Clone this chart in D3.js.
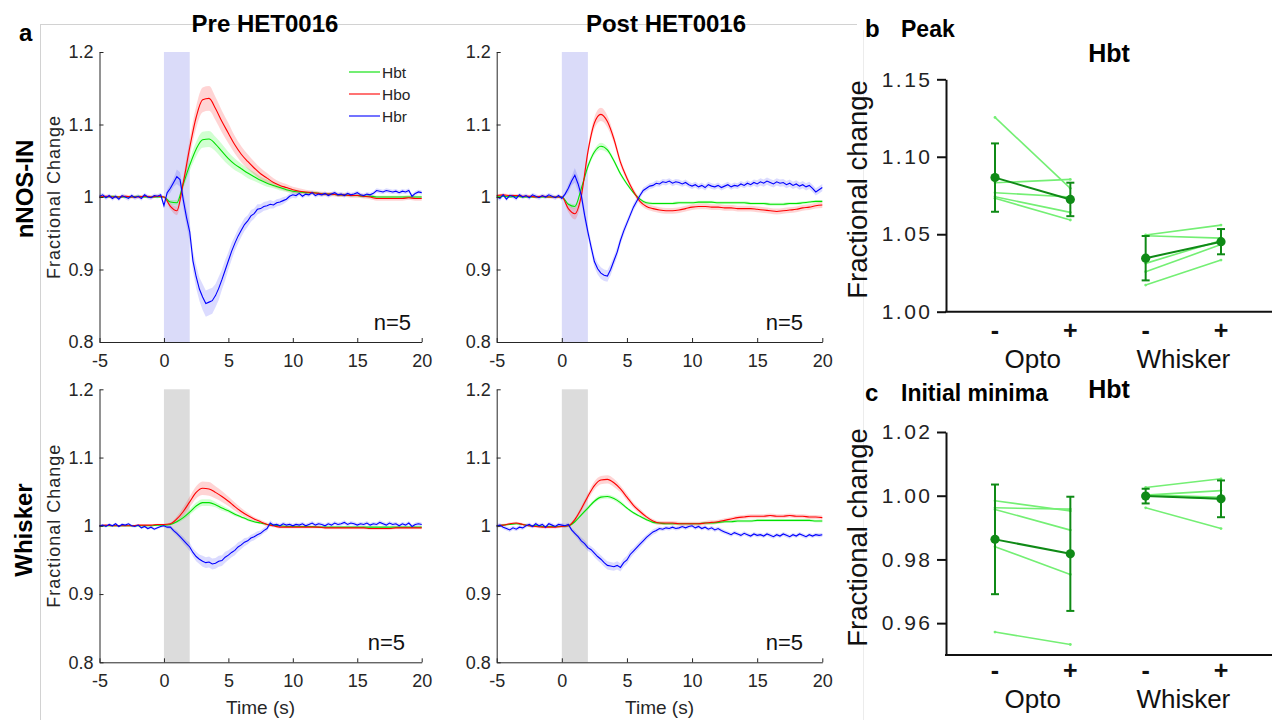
<!DOCTYPE html>
<html>
<head>
<meta charset="utf-8">
<script src="https://cdnjs.cloudflare.com/ajax/libs/d3/7.8.5/d3.min.js"></script>
<style>
  html, body { margin: 0; padding: 0; background: #fff; }
  svg { display: block; font-family: Arial, "Liberation Sans", Helvetica, sans-serif; }
</style>
</head>
<body>
<svg id="chart" width="1274" height="720"></svg>
<script>
'use strict';

// ---- time bases (s) ----
var timeCoarse = [-5, -4.5, -4, -3.5, -3, -2.5, -2, -1.5, -1, -0.5, 0, 0.5, 1, 1.5, 2, 2.5, 3, 3.5, 4, 4.5,
    5, 5.5, 6, 6.5, 7, 7.5, 8, 8.5, 9, 9.5, 10, 10.5, 11, 11.5, 12, 12.5, 13, 13.5, 14, 14.5,
    15, 15.5, 16, 16.5, 17, 17.5, 18, 18.5, 19, 19.5, 20];
var timeFine = [-5, -4.75, -4.5, -4.25, -4, -3.75, -3.5, -3.25, -3, -2.75, -2.5, -2.25, -2, -1.75, -1.5, -1.25,
    -1, -0.75, -0.5, -0.25, 0, 0.25, 0.5, 0.75, 1, 1.25, 1.5, 1.75, 2, 2.25, 2.5, 2.75, 3, 3.25, 3.5, 3.75,
    4, 4.25, 4.5, 4.75, 5, 5.25, 5.5, 5.75, 6, 6.25, 6.5, 6.75, 7, 7.25, 7.5, 7.75, 8, 8.25, 8.5, 8.75,
    9, 9.25, 9.5, 9.75, 10, 10.25, 10.5, 10.75, 11, 11.25, 11.5, 11.75, 12, 12.25, 12.5, 12.75, 13, 13.25,
    13.5, 13.75, 14, 14.25, 14.5, 14.75, 15, 15.25, 15.5, 15.75, 16, 16.25, 16.5, 16.75, 17, 17.25,
    17.5, 17.75, 18, 18.25, 18.5, 18.75, 19, 19.25, 19.5, 19.75, 20];
var stimWindow = [0, 2];
var xTicks = [-5, 0, 5, 10, 15, 20];
var yTicks = [0.8, 0.9, 1.0, 1.1, 1.2];

// ---- a: nNOS-IN (opto), pre HET0016 ----
var preOptoHbt = [1.000, 1.000, 1.001, 1.000, 1.000, 1.000, 1.001, 1.000, 1.000, 1.000,
    1.000, 0.993, 0.992, 1.018, 1.044, 1.066, 1.079, 1.080, 1.073, 1.063,
    1.053, 1.045, 1.039, 1.033, 1.028, 1.023, 1.019, 1.016, 1.013, 1.010,
    1.008, 1.007, 1.006, 1.006, 1.005, 1.004, 1.004, 1.003, 1.003, 1.002,
    1.002, 1.001, 1.001, 1.000, 1.000, 1.000, 1.000, 1.000, 1.000, 1.000, 1.000];
var preOptoHbo = [1.000, 1.001, 1.000, 1.000, 1.001, 1.000, 1.000, 1.001, 1.000, 1.001,
    1.000, 0.987, 0.981, 1.020, 1.068, 1.110, 1.134, 1.136, 1.122, 1.104,
    1.088, 1.072, 1.059, 1.049, 1.040, 1.032, 1.026, 1.020, 1.016, 1.013,
    1.010, 1.008, 1.007, 1.006, 1.005, 1.004, 1.004, 1.003, 1.003, 1.002,
    1.002, 1.001, 1.000, 0.998, 0.998, 0.998, 0.998, 0.998, 0.999, 0.998, 0.998];
var preOptoHbr = [1.001, 1.003, 0.999, 1.002, 0.998, 1.001, 0.997, 1.002, 1.000, 0.998,
    1.002, 0.999, 1.001, 0.998, 1.003, 1.000, 0.999, 1.002, 1.001, 1.003,
    0.988, 1.006, 1.012, 1.020, 1.028, 1.024, 0.996, 0.972, 0.952, 0.912,
    0.890, 0.873, 0.862, 0.853, 0.855, 0.857, 0.864, 0.874, 0.886, 0.899,
    0.912, 0.925, 0.936, 0.946, 0.954, 0.962, 0.967, 0.974, 0.977, 0.983,
    0.984, 0.987, 0.988, 0.990, 0.989, 0.992, 0.993, 0.995, 0.997, 1.001,
    1.003,
    1.002, 1.005, 1.001, 1.004, 1.003, 1.006, 1.002, 1.004, 1.003, 1.005,
    1.002, 1.004, 1.006, 1.003, 1.004, 1.002, 1.005, 1.003, 1.004, 1.006,
    1.003, 1.002, 1.004, 1.003, 1.005,
    1.009, 1.008, 1.007, 1.009, 1.008, 1.007, 1.008, 1.006, 1.008, 1.007, 1.009, 1.001, 1.005, 1.007, 1.006];
var preOptoHbtSem = [0.001, 0.001, 0.001, 0.001, 0.001, 0.001, 0.001, 0.001, 0.001, 0.001,
    0.001, 0.003, 0.004, 0.006, 0.008, 0.010, 0.011, 0.011, 0.010, 0.010,
    0.009, 0.008, 0.007, 0.007, 0.006, 0.005, 0.005, 0.004, 0.004, 0.003,
    0.003, 0.002, 0.002, 0.002, 0.002, 0.002, 0.002, 0.002, 0.002, 0.002,
    0.002, 0.002, 0.002, 0.002, 0.002, 0.002, 0.002, 0.002, 0.002, 0.002, 0.002];
var preOptoHboSem = [0.002, 0.002, 0.002, 0.002, 0.002, 0.002, 0.002, 0.002, 0.002, 0.002,
    0.002, 0.004, 0.006, 0.008, 0.012, 0.015, 0.017, 0.017, 0.016, 0.015,
    0.014, 0.012, 0.011, 0.010, 0.009, 0.008, 0.007, 0.006, 0.005, 0.005,
    0.004, 0.004, 0.003, 0.003, 0.003, 0.003, 0.003, 0.003, 0.003, 0.003,
    0.003, 0.003, 0.003, 0.003, 0.003, 0.003, 0.003, 0.003, 0.003, 0.003, 0.003];
var preOptoHbrSem = [0.003, 0.003, 0.003, 0.003, 0.003, 0.003, 0.003, 0.003, 0.003, 0.003,
    0.004, 0.006, 0.010, 0.012, 0.014, 0.016, 0.018, 0.018, 0.016, 0.014,
    0.012, 0.010, 0.009, 0.008, 0.007, 0.006, 0.006, 0.005, 0.005, 0.004,
    0.004, 0.003, 0.003, 0.003, 0.003, 0.003, 0.003, 0.003, 0.003, 0.003,
    0.003, 0.003, 0.003, 0.003, 0.003, 0.003, 0.003, 0.003, 0.003, 0.003, 0.003];

// ---- a: nNOS-IN (opto), post HET0016 ----
var postOptoHbt = [1.001, 1.001, 1.000, 1.001, 1.000, 1.000, 1.000, 1.000, 1.000, 1.000,
    1.000, 0.990, 0.987, 1.012, 1.042, 1.062, 1.070, 1.065, 1.050, 1.032,
    1.018, 1.006, 0.997, 0.992, 0.991, 0.991, 0.991, 0.991, 0.992, 0.992,
    0.992, 0.993, 0.993, 0.993, 0.992, 0.992, 0.992, 0.992, 0.992, 0.991,
    0.991, 0.991, 0.990, 0.990, 0.990, 0.991, 0.991, 0.992, 0.993, 0.994, 0.994];
var postOptoHbo = [1.002, 1.003, 1.002, 1.002, 1.001, 1.001, 1.000, 1.001, 1.000, 1.000,
    1.000, 0.984, 0.977, 1.002, 1.062, 1.102, 1.114, 1.104, 1.080, 1.048,
    1.026, 1.008, 0.994, 0.987, 0.984, 0.982, 0.981, 0.981, 0.982, 0.984,
    0.986, 0.987, 0.987, 0.986, 0.986, 0.985, 0.985, 0.984, 0.984, 0.984,
    0.983, 0.982, 0.981, 0.980, 0.981, 0.982, 0.983, 0.985, 0.986, 0.988, 0.989];
var postOptoHbr = [1.000, 0.998, 1.003, 0.997, 1.002, 1.001, 0.998, 1.003, 1.000, 1.002,
    0.999, 1.003, 1.001, 0.999, 1.002, 1.000, 1.003, 1.001, 0.999, 1.002,
    0.998, 1.004, 1.012, 1.022, 1.030, 1.018, 1.002, 0.975, 0.952, 0.931,
    0.911, 0.901, 0.895, 0.892, 0.891, 0.900, 0.912, 0.924, 0.940, 0.953,
    0.964, 0.975, 0.986, 0.994, 1.002, 1.009, 1.012, 1.015, 1.016, 1.019,
    1.018, 1.021, 1.020, 1.022, 1.019, 1.021, 1.020, 1.018, 1.020, 1.017,
    1.015,
    1.017, 1.014, 1.016, 1.013, 1.017, 1.015, 1.014, 1.016, 1.013, 1.015,
    1.017, 1.014, 1.016, 1.015, 1.018, 1.016, 1.019, 1.017, 1.020, 1.018,
    1.021, 1.019, 1.022, 1.020, 1.018, 1.021, 1.019, 1.020, 1.017, 1.019,
    1.016, 1.018, 1.015, 1.017, 1.014, 1.016, 1.012, 1.007, 1.010, 1.013];
var postOptoHbtSem = [0.001, 0.001, 0.001, 0.001, 0.001, 0.001, 0.001, 0.001, 0.001, 0.001,
    0.001, 0.002, 0.003, 0.003, 0.004, 0.004, 0.005, 0.004, 0.003, 0.003,
    0.002, 0.002, 0.002, 0.002, 0.002, 0.002, 0.002, 0.002, 0.002, 0.002,
    0.002, 0.002, 0.002, 0.002, 0.002, 0.002, 0.002, 0.002, 0.002, 0.002,
    0.002, 0.002, 0.002, 0.002, 0.002, 0.002, 0.002, 0.002, 0.002, 0.002, 0.002];
var postOptoHboSem = [0.002, 0.002, 0.002, 0.002, 0.002, 0.002, 0.002, 0.002, 0.002, 0.002,
    0.002, 0.005, 0.008, 0.007, 0.007, 0.008, 0.009, 0.008, 0.006, 0.005,
    0.004, 0.004, 0.004, 0.004, 0.004, 0.004, 0.004, 0.004, 0.004, 0.004,
    0.004, 0.004, 0.004, 0.004, 0.004, 0.004, 0.004, 0.004, 0.004, 0.004,
    0.004, 0.004, 0.004, 0.004, 0.004, 0.004, 0.004, 0.004, 0.004, 0.004, 0.004];
var postOptoHbrSem = [0.003, 0.003, 0.003, 0.003, 0.003, 0.003, 0.003, 0.003, 0.003, 0.003,
    0.003, 0.006, 0.010, 0.009, 0.008, 0.008, 0.008, 0.008, 0.007, 0.006,
    0.005, 0.005, 0.004, 0.004, 0.004, 0.004, 0.004, 0.004, 0.004, 0.004,
    0.004, 0.004, 0.004, 0.004, 0.004, 0.004, 0.004, 0.004, 0.004, 0.004,
    0.005, 0.005, 0.005, 0.005, 0.005, 0.005, 0.005, 0.005, 0.005, 0.005, 0.005];

// ---- a: whisker, pre HET0016 ----
var preWhiskerHbt = [1.000, 1.000, 1.000, 1.000, 1.000, 1.000, 1.000, 1.000, 1.000, 1.001,
    1.001, 1.002, 1.006, 1.012, 1.020, 1.029, 1.034, 1.034, 1.031, 1.026,
    1.022, 1.017, 1.013, 1.009, 1.006, 1.004, 1.002, 1.001, 1.000, 0.999,
    0.999, 0.999, 0.999, 0.999, 0.998, 0.998, 0.998, 0.998, 0.998, 0.998,
    0.998, 0.998, 0.998, 0.998, 0.998, 0.998, 0.998, 0.998, 0.998, 0.998, 0.998];
var preWhiskerHbo = [1.000, 1.001, 1.000, 1.000, 1.000, 1.000, 1.001, 1.001, 1.001, 1.002,
    1.002, 1.003, 1.010, 1.021, 1.035, 1.049, 1.055, 1.054, 1.049, 1.043,
    1.036, 1.028, 1.021, 1.015, 1.010, 1.006, 1.002, 1.000, 0.998, 0.998,
    0.998, 0.998, 0.998, 0.998, 0.998, 0.997, 0.997, 0.997, 0.997, 0.997,
    0.997, 0.997, 0.996, 0.996, 0.996, 0.996, 0.997, 0.997, 0.997, 0.997, 0.997];
var preWhiskerHbr = [1.000, 1.001, 0.999, 1.002, 1.000, 1.003, 0.999, 1.002, 1.001, 1.003,
    1.000, 0.999, 1.001, 0.997, 0.999, 0.996, 0.998, 0.995, 0.997, 0.999,
    1.000, 0.998, 0.998, 0.993, 0.989, 0.984, 0.979, 0.974, 0.969, 0.961,
    0.955, 0.951, 0.948, 0.946, 0.947, 0.944, 0.945, 0.948, 0.949, 0.954,
    0.957, 0.961, 0.964, 0.969, 0.972, 0.976, 0.978, 0.982, 0.984, 0.987,
    0.989, 0.993, 0.996, 1.004, 1.001, 1.002, 1.000, 1.003, 1.001, 1.002,
    1.000,
    1.002, 1.001, 1.003, 1.000, 1.002, 1.004, 1.001, 1.003, 1.002, 1.000,
    1.003, 1.001, 1.004, 1.002, 1.003, 1.005, 1.002, 1.004, 1.003, 1.001,
    1.003, 1.002, 1.004, 1.001, 1.003, 1.002, 1.005, 1.003, 1.001, 1.004,
    1.002, 1.003, 1.000, 1.003, 1.001, 1.004, 0.999, 1.002, 1.003, 1.002];
var preWhiskerHbtSem = [0.001, 0.001, 0.001, 0.001, 0.001, 0.001, 0.001, 0.001, 0.001, 0.001,
    0.001, 0.001, 0.002, 0.003, 0.004, 0.005, 0.005, 0.005, 0.004, 0.004,
    0.003, 0.003, 0.002, 0.002, 0.002, 0.001, 0.001, 0.001, 0.001, 0.001,
    0.001, 0.001, 0.001, 0.001, 0.001, 0.001, 0.001, 0.001, 0.001, 0.001,
    0.001, 0.001, 0.001, 0.001, 0.001, 0.001, 0.001, 0.001, 0.001, 0.001, 0.001];
var preWhiskerHboSem = [0.001, 0.001, 0.001, 0.001, 0.001, 0.001, 0.001, 0.001, 0.001, 0.001,
    0.001, 0.002, 0.004, 0.006, 0.008, 0.009, 0.010, 0.010, 0.009, 0.008,
    0.007, 0.006, 0.005, 0.004, 0.003, 0.003, 0.003, 0.002, 0.002, 0.002,
    0.002, 0.002, 0.002, 0.002, 0.002, 0.002, 0.002, 0.002, 0.002, 0.002,
    0.002, 0.002, 0.002, 0.002, 0.002, 0.002, 0.002, 0.002, 0.002, 0.002, 0.002];
var preWhiskerHbrSem = [0.002, 0.002, 0.002, 0.002, 0.002, 0.002, 0.002, 0.002, 0.002, 0.002,
    0.002, 0.003, 0.004, 0.005, 0.006, 0.007, 0.008, 0.008, 0.008, 0.008,
    0.007, 0.007, 0.006, 0.005, 0.005, 0.004, 0.004, 0.003, 0.003, 0.003,
    0.003, 0.003, 0.003, 0.003, 0.003, 0.003, 0.003, 0.003, 0.003, 0.003,
    0.003, 0.003, 0.003, 0.003, 0.003, 0.003, 0.003, 0.003, 0.003, 0.003, 0.003];

// ---- a: whisker, post HET0016 ----
var postWhiskerHbt = [1.000, 1.001, 1.002, 1.003, 1.002, 1.000, 1.000, 0.999, 0.999, 0.999,
    0.999, 1.000, 1.006, 1.016, 1.026, 1.036, 1.042, 1.043, 1.040, 1.034,
    1.026, 1.019, 1.014, 1.009, 1.005, 1.004, 1.003, 1.003, 1.003, 1.003,
    1.003, 1.003, 1.004, 1.004, 1.005, 1.006, 1.006, 1.007, 1.007, 1.007,
    1.008, 1.008, 1.008, 1.008, 1.008, 1.008, 1.008, 1.008, 1.008, 1.007, 1.007];
var postWhiskerHbo = [1.000, 1.001, 1.003, 1.004, 1.002, 1.000, 0.999, 0.998, 0.998, 0.998,
    0.999, 1.000, 1.009, 1.025, 1.043, 1.059, 1.067, 1.068, 1.063, 1.054,
    1.042, 1.030, 1.021, 1.013, 1.007, 1.004, 1.004, 1.004, 1.003, 1.003,
    1.003, 1.003, 1.004, 1.005, 1.006, 1.008, 1.010, 1.012, 1.013, 1.014,
    1.014, 1.014, 1.015, 1.014, 1.014, 1.015, 1.014, 1.014, 1.013, 1.013, 1.012];
var postWhiskerHbr = [1.000, 1.001, 0.998, 0.996, 0.994, 0.997, 0.995, 0.998, 0.997, 1.000,
    1.002, 0.999, 1.003, 1.000, 1.002, 0.998, 1.003, 1.001, 0.999, 1.002,
    1.001, 1.000, 1.002, 0.994, 0.989, 0.984, 0.978, 0.974, 0.968, 0.965,
    0.960, 0.955, 0.951, 0.946, 0.942, 0.941, 0.940, 0.942, 0.939, 0.946,
    0.950, 0.958, 0.963, 0.968, 0.973, 0.978, 0.983, 0.987, 0.991, 0.993,
    0.996, 0.995, 0.997, 0.996, 0.998, 0.996, 0.997, 0.999, 0.997, 0.999,
    1.000,
    0.997, 0.999, 0.996, 0.998, 0.995, 0.997, 0.994, 0.996, 0.993, 0.991,
    0.989, 0.987, 0.990, 0.988, 0.986, 0.989, 0.987, 0.985, 0.988, 0.986,
    0.987, 0.985, 0.988, 0.986, 0.984, 0.987, 0.985, 0.988, 0.986, 0.984,
    0.987, 0.985, 0.988, 0.986, 0.984, 0.987, 0.985, 0.987, 0.986, 0.987];
var postWhiskerHbtSem = [0.001, 0.001, 0.001, 0.001, 0.001, 0.001, 0.001, 0.001, 0.001, 0.001,
    0.001, 0.001, 0.002, 0.002, 0.003, 0.003, 0.003, 0.003, 0.003, 0.003,
    0.002, 0.002, 0.002, 0.002, 0.002, 0.002, 0.002, 0.002, 0.002, 0.002,
    0.002, 0.002, 0.002, 0.002, 0.002, 0.002, 0.002, 0.002, 0.002, 0.002,
    0.002, 0.002, 0.002, 0.002, 0.002, 0.002, 0.002, 0.002, 0.002, 0.002, 0.002];
var postWhiskerHboSem = [0.002, 0.002, 0.002, 0.002, 0.002, 0.002, 0.002, 0.002, 0.002, 0.002,
    0.002, 0.002, 0.003, 0.004, 0.005, 0.006, 0.006, 0.006, 0.006, 0.005,
    0.005, 0.004, 0.004, 0.003, 0.003, 0.003, 0.003, 0.003, 0.003, 0.003,
    0.003, 0.003, 0.003, 0.003, 0.003, 0.003, 0.003, 0.003, 0.003, 0.003,
    0.003, 0.003, 0.003, 0.003, 0.003, 0.003, 0.003, 0.003, 0.003, 0.003, 0.003];
var postWhiskerHbrSem = [0.003, 0.003, 0.003, 0.003, 0.003, 0.003, 0.003, 0.003, 0.003, 0.003,
    0.003, 0.003, 0.004, 0.005, 0.005, 0.006, 0.006, 0.006, 0.006, 0.006,
    0.006, 0.005, 0.005, 0.004, 0.004, 0.003, 0.003, 0.003, 0.003, 0.003,
    0.003, 0.003, 0.003, 0.003, 0.003, 0.003, 0.003, 0.003, 0.003, 0.003,
    0.003, 0.003, 0.003, 0.003, 0.003, 0.003, 0.003, 0.003, 0.003, 0.003, 0.003];

// ---- b/c: per-animal Hbt, [without, with] HET0016 ----
var groups = ['Opto', 'Whisker'];
var signs = ['-', '+'];
var peakOpto = [[1.1254, 1.0796], [1.0832, 1.0854], [1.0768, 1.0740], [1.0742, 1.0641], [1.0732, 1.0592]];
var peakWhisker = [[1.0495, 1.0559], [1.0490, 1.0475], [1.0312, 1.0460], [1.0258, 1.0433], [1.0172, 1.0333]];
var minimaOpto = [[0.9984, 0.9952], [0.9962, 0.9958], [0.9957, 0.9892], [0.9840, 0.9753], [0.9572, 0.9533]];
var minimaWhisker = [[1.0026, 1.0053], [1.0002, 1.0016], [1.0003, 0.9995], [1.0001, 0.9990], [0.9962, 0.9897]];

var INK = '#262626';
var LIGHT_GREEN = '#74ef74';
var DARK_GREEN = '#0f8a16';

var hbSeries = [
    {key: 'hbt', label: 'Hbt', color: '#00e000', band: '#00ff00', bandOpacity: 0.18},
    {key: 'hbo', label: 'Hbo', color: '#ff0000', band: '#ff0000', bandOpacity: 0.17},
    {key: 'hbr', label: 'Hbr', color: '#0000ff', band: '#0000ff', bandOpacity: 0.14}
];

var svg = d3.select('#chart');

function text(x, y, str, size, weight, anchor, rotate) {
    var t = svg.append('text')
        .attr('x', x)
        .attr('y', y)
        .attr('font-size', size)
        .attr('font-weight', weight || 'normal')
        .attr('text-anchor', anchor || 'start')
        .attr('fill', '#000')
        .text(str);
    if (rotate) {
        t.attr('transform', 'rotate(' + rotate + ',' + x + ',' + y + ')');
    }
    return t;
}

function drawFrame() {
    var frame = svg.append('g').attr('stroke', '#d2d2d2').attr('stroke-width', 1);
    frame.append('line').attr('x1', 40).attr('y1', 24.5).attr('x2', 857).attr('y2', 24.5);
    frame.append('line').attr('x1', 40.5).attr('y1', 24).attr('x2', 40.5).attr('y2', 720);
    frame.append('line').attr('x1', 863.5).attr('y1', 30).attr('x2', 863.5).attr('y2', 720).attr('stroke', '#ececec');
}

function drawTracePanel(p) {
    var x = d3.scaleLinear().domain([-5, 20]).range([p.left, p.right]);
    var y = d3.scaleLinear().domain([0.8, 1.2]).range([p.bottom, p.top]);
    var g = svg.append('g');

    g.append('rect')
        .attr('x', x(stimWindow[0]))
        .attr('y', y(1.2))
        .attr('width', x(stimWindow[1]) - x(stimWindow[0]))
        .attr('height', y(0.8) - y(1.2))
        .attr('fill', p.stimColor);

    function points(s) {
        var mean = p.data[s.key];
        var sem = p.data[s.key + 'Sem'];
        var fine = mean.length === timeFine.length;
        var times = fine ? timeFine : timeCoarse;
        return times.map(function (t, i) {
            return {t: t, v: mean[i], e: sem[fine ? Math.floor(i / 2) : i], fine: fine};
        });
    }

    // shaded error first, then the means on top
    hbSeries.forEach(function (s) {
        var pts = points(s);
        var area = d3.area()
            .x(function (d) { return x(d.t); })
            .y0(function (d) { return y(d.v - d.e); })
            .y1(function (d) { return y(d.v + d.e); })
            .curve(pts[0].fine ? d3.curveLinear : d3.curveMonotoneX);
        g.append('path').datum(pts)
            .attr('d', area)
            .attr('fill', s.band)
            .attr('fill-opacity', s.bandOpacity);
    });

    hbSeries.forEach(function (s) {
        var pts = points(s);
        var line = d3.line()
            .x(function (d) { return x(d.t); })
            .y(function (d) { return y(d.v); })
            .curve(pts[0].fine ? d3.curveLinear : d3.curveMonotoneX);
        g.append('path').datum(pts)
            .attr('d', line)
            .attr('fill', 'none')
            .attr('stroke', s.color)
            .attr('stroke-width', 1.1);
    });

    var xAxis = d3.axisBottom(x).tickValues(xTicks).tickSizeInner(-4).tickSizeOuter(0).tickPadding(12)
        .tickFormat(function (d) { return String(d); });
    var yAxis = d3.axisLeft(y).tickValues(yTicks).tickSizeInner(-4).tickSizeOuter(0).tickPadding(6)
        .tickFormat(function (d) { return String(+d.toFixed(1)); });

    [g.append('g').attr('transform', 'translate(0,' + p.bottom + ')').call(xAxis),
        g.append('g').attr('transform', 'translate(' + p.left + ',0)').call(yAxis)]
        .forEach(function (ax) {
            ax.select('.domain').attr('stroke', INK).attr('stroke-width', 1);
            ax.selectAll('.tick line').attr('stroke', INK);
            ax.selectAll('.tick text')
                .attr('fill', INK)
                .attr('font-size', 18)
                .attr('font-family', 'Arial, "Liberation Sans", sans-serif');
        });

    text(p.nX, p.bottom - 12, 'n=5', 22, 'normal', 'end').attr('fill', '#111');

    if (p.yLabel) {
        text(60, (p.top + p.bottom) / 2, 'Fractional Change', 18, 'normal', 'middle', -90)
            .attr('fill', INK).attr('letter-spacing', 1);
    }
    if (p.xLabel) {
        text((p.left + p.right) / 2, 714, 'Time (s)', 19, 'normal', 'middle').attr('fill', INK);
    }
    if (p.title) {
        text(p.titleX, 32, p.title, 24, 'bold', 'middle');
    }
    if (p.legend) {
        hbSeries.forEach(function (s, i) {
            var ly = 72 + i * 22;
            g.append('line')
                .attr('x1', 349).attr('x2', 380)
                .attr('y1', ly).attr('y2', ly)
                .attr('stroke', s.color).attr('stroke-width', 1.1);
            text(382, ly + 5.5, s.label, 15.5, 'normal', 'start').attr('fill', INK);
        });
    }
}

function drawPairedPanel(p) {
    var y = d3.scaleLinear().domain(p.domain).range([p.bottom, p.top]);
    var keys = [];
    groups.forEach(function (gr) { signs.forEach(function (s) { keys.push(gr + s); }); });
    var x = d3.scalePoint().domain(keys).range([995, 1221]);
    var g = svg.append('g');

    var yAxis = d3.axisLeft(y).tickValues(p.ticks).tickFormat(d3.format('.2f'))
        .tickSizeInner(9).tickSizeOuter(0).tickPadding(4.5);
    var ax = g.append('g').attr('transform', 'translate(946,0)').call(yAxis);
    ax.select('.domain').attr('stroke', '#111').attr('stroke-width', 2);
    ax.selectAll('.tick line').attr('stroke', '#111').attr('stroke-width', 2);
    ax.selectAll('.tick text')
        .attr('fill', '#222')
        .attr('font-size', 21)
        .attr('letter-spacing', 2.5)
        .attr('font-family', 'Arial, "Liberation Sans", sans-serif');

    g.append('line')
        .attr('x1', 945).attr('x2', 1272)
        .attr('y1', p.bottom).attr('y2', p.bottom)
        .attr('stroke', '#111').attr('stroke-width', 2);

    groups.forEach(function (gr, gi) {
        var rows = p.values[gi];
        var x0 = x(gr + signs[0]);
        var x1 = x(gr + signs[1]);

        rows.forEach(function (r) {
            g.append('line')
                .attr('x1', x0).attr('x2', x1)
                .attr('y1', y(r[0])).attr('y2', y(r[1]))
                .attr('stroke', LIGHT_GREEN).attr('stroke-width', 1.6);
            [0, 1].forEach(function (k) {
                g.append('circle')
                    .attr('cx', k ? x1 : x0).attr('cy', y(r[k])).attr('r', 1.4)
                    .attr('fill', LIGHT_GREEN);
            });
        });

        var stats = [0, 1].map(function (k) {
            var col = rows.map(function (r) { return r[k]; });
            return {mean: d3.mean(col), sd: d3.deviation(col), x: k ? x1 : x0};
        });

        g.append('line')
            .attr('x1', x0).attr('x2', x1)
            .attr('y1', y(stats[0].mean)).attr('y2', y(stats[1].mean))
            .attr('stroke', DARK_GREEN).attr('stroke-width', 2);

        stats.forEach(function (st) {
            var top = y(st.mean + st.sd);
            var bot = y(st.mean - st.sd);
            g.append('line').attr('x1', st.x).attr('x2', st.x).attr('y1', top).attr('y2', bot)
                .attr('stroke', DARK_GREEN).attr('stroke-width', 2);
            [top, bot].forEach(function (cy) {
                g.append('line').attr('x1', st.x - 4).attr('x2', st.x + 4).attr('y1', cy).attr('y2', cy)
                    .attr('stroke', DARK_GREEN).attr('stroke-width', 2);
            });
            g.append('circle').attr('cx', st.x).attr('cy', y(st.mean)).attr('r', 4.6)
                .attr('fill', DARK_GREEN);
        });

        signs.forEach(function (s) {
            text(x(gr + s), p.signY, s, 25, 'bold', 'middle').attr('fill', '#111');
        });
        text((x0 + x1) / 2, p.groupY, gr, 26, 'normal', 'middle').attr('fill', '#111');
    });

    text(867, (p.top + p.bottom) / 2 - 6, 'Fractional change', 27.5, 'normal', 'middle', -90).attr('fill', '#111');
    text(865, p.labelY, p.letter, 24, 'bold', 'start');
    text(901, p.labelY, p.heading, 23, 'bold', 'start');
    text(1109, p.hbtY, 'Hbt', 25, 'bold', 'middle');
}

drawFrame();

text(19, 41, 'a', 24, 'bold', 'start');
text(33, 189, 'nNOS-IN', 24, 'bold', 'middle', -90);
text(32, 530, 'Whisker', 24, 'bold', 'middle', -90);

var tracePanels = [
    {left: 99.5, right: 421.7, top: 52, bottom: 342, stimColor: '#dadbf9', nX: 411,
        title: 'Pre HET0016', titleX: 265, legend: true, yLabel: true,
        data: {hbt: preOptoHbt, hbo: preOptoHbo, hbr: preOptoHbr,
            hbtSem: preOptoHbtSem, hboSem: preOptoHboSem, hbrSem: preOptoHbrSem}},
    {left: 496.7, right: 822.3, top: 52, bottom: 342, stimColor: '#dadbf9', nX: 803,
        title: 'Post HET0016', titleX: 666,
        data: {hbt: postOptoHbt, hbo: postOptoHbo, hbr: postOptoHbr,
            hbtSem: postOptoHbtSem, hboSem: postOptoHboSem, hbrSem: postOptoHbrSem}},
    {left: 99.5, right: 421.7, top: 389.3, bottom: 662.3, stimColor: '#dcdcdc', nX: 405,
        yLabel: true, xLabel: true,
        data: {hbt: preWhiskerHbt, hbo: preWhiskerHbo, hbr: preWhiskerHbr,
            hbtSem: preWhiskerHbtSem, hboSem: preWhiskerHboSem, hbrSem: preWhiskerHbrSem}},
    {left: 496.7, right: 822.3, top: 389.3, bottom: 662.3, stimColor: '#dcdcdc', nX: 803,
        xLabel: true,
        data: {hbt: postWhiskerHbt, hbo: postWhiskerHbo, hbr: postWhiskerHbr,
            hbtSem: postWhiskerHbtSem, hboSem: postWhiskerHboSem, hbrSem: postWhiskerHbrSem}}
];
tracePanels.forEach(drawTracePanel);

drawPairedPanel({domain: [1.00, 1.15], ticks: [1.00, 1.05, 1.10, 1.15], top: 79.3, bottom: 311.7,
    values: [peakOpto, peakWhisker], signY: 339, groupY: 368,
    letter: 'b', heading: 'Peak', labelY: 37, hbtY: 61.5});
drawPairedPanel({domain: [0.95, 1.02], ticks: [0.96, 0.98, 1.00, 1.02], top: 432, bottom: 655,
    values: [minimaOpto, minimaWhisker], signY: 679, groupY: 708,
    letter: 'c', heading: 'Initial minima', labelY: 401, hbtY: 398});
</script>
</body>
</html>
